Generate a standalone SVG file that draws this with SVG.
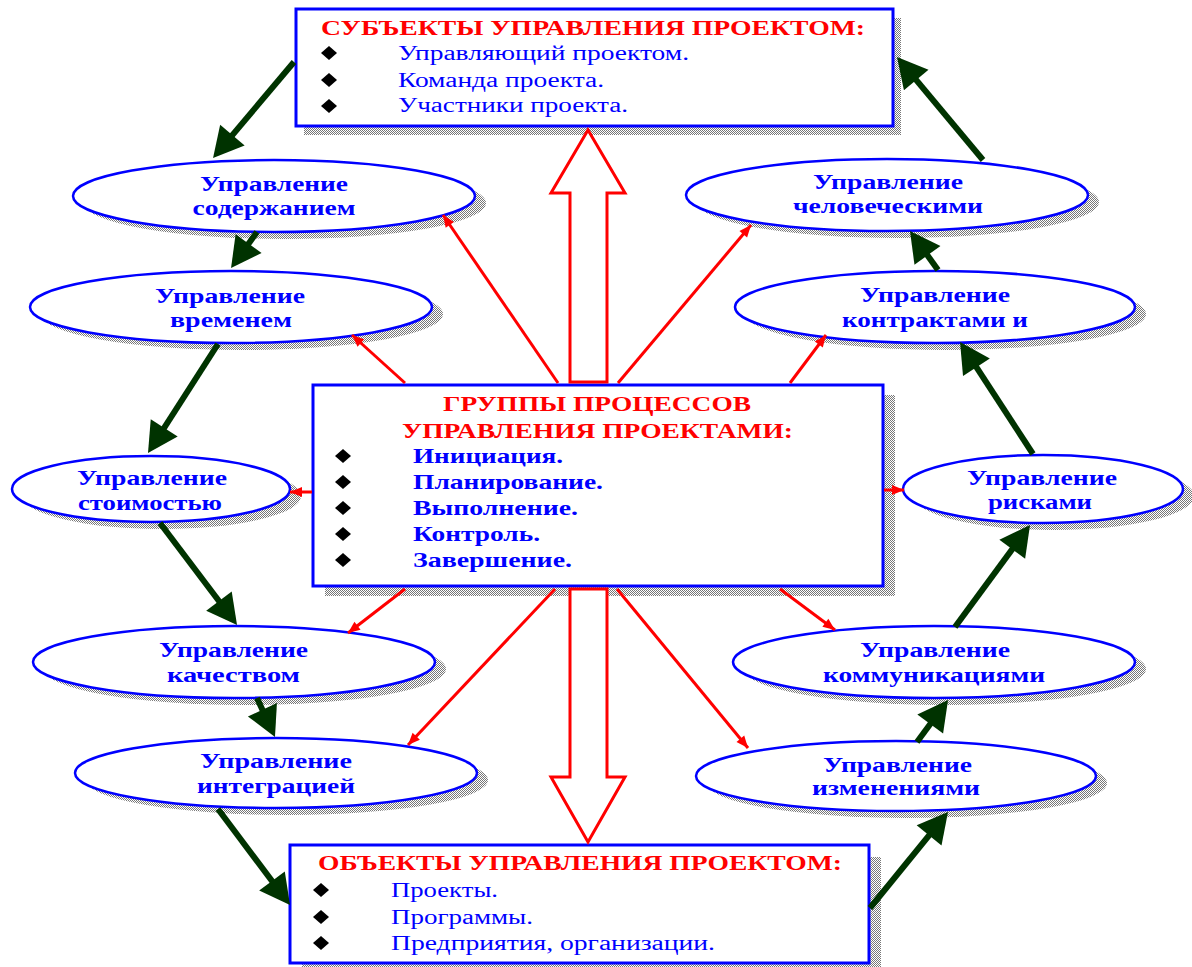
<svg xmlns="http://www.w3.org/2000/svg" width="1192" height="967" viewBox="0 0 1192 967">
<style>
.box{fill:#fff;stroke:#0000ff;stroke-width:3}
.ell{fill:#fff;stroke:#0000ff;stroke-width:2.5}
.sh{fill:url(#dither);stroke:none}
.tt{font-family:"Liberation Serif",serif;font-weight:bold;fill:#ff0000;font-size:21px}
.ti{font-family:"Liberation Serif",serif;fill:#0000ff;font-size:20px}
.tb{font-family:"Liberation Serif",serif;font-weight:bold;fill:#0000ff;font-size:21px}
.te{font-family:"Liberation Serif",serif;font-weight:bold;fill:#0000ff;font-size:22px;text-anchor:middle}
.mid{text-anchor:middle}
.g{stroke:#003300;stroke-width:6;fill:none;marker-end:url(#gh)}
.r{stroke:#ff0000;stroke-width:3;fill:none;marker-end:url(#rh)}
.big{fill:#fff;stroke:#ff0000;stroke-width:3;stroke-linejoin:miter}
</style>
<defs>
<pattern id="dither" width="2" height="2" patternUnits="userSpaceOnUse">
<rect width="2" height="2" fill="#ffffff"/>
<rect width="1" height="1" fill="#777777"/>
<rect x="1" y="1" width="1" height="1" fill="#777777"/>
</pattern>
<marker id="gh" markerUnits="userSpaceOnUse" markerWidth="32" markerHeight="32" refX="20" refY="16" orient="auto" overflow="visible">
<path d="M0,0 L30,16 L0,32 z" fill="#003300"/>
</marker>
<marker id="rh" markerUnits="userSpaceOnUse" markerWidth="14" markerHeight="12" refX="12" refY="5" orient="auto" overflow="visible">
<path d="M0,0 L12,5 L0,10 z" fill="#ff0000"/>
</marker>
<path id="dia" d="M-8,0 L0,-7 L8,0 L0,7 z" fill="#000"/>
</defs>

<g id="subjects">
<rect class="sh" x="304" y="18" width="597" height="117"/>
<rect class="box" x="296" y="9" width="597" height="117"/>
<text class="tt mid" x="593" y="35" textLength="544" lengthAdjust="spacingAndGlyphs">СУБЪЕКТЫ УПРАВЛЕНИЯ ПРОЕКТОМ:</text>
<use href="#dia" x="329" y="53"/>
<use href="#dia" x="329" y="80"/>
<use href="#dia" x="329" y="106"/>
<text class="ti" x="398" y="60" textLength="291" lengthAdjust="spacingAndGlyphs">Управляющий проектом.</text>
<text class="ti" x="398" y="87" textLength="206" lengthAdjust="spacingAndGlyphs">Команда проекта.</text>
<text class="ti" x="398" y="112" textLength="230" lengthAdjust="spacingAndGlyphs">Участники проекта.</text>
</g>

<g id="groups">
<rect class="sh" x="325" y="395" width="570" height="201"/>
<rect class="box" x="313" y="385" width="570" height="201"/>
<text class="tt mid" x="597" y="411" textLength="308" lengthAdjust="spacingAndGlyphs">ГРУППЫ ПРОЦЕССОВ</text>
<text class="tt mid" x="597.5" y="438" textLength="391" lengthAdjust="spacingAndGlyphs">УПРАВЛЕНИЯ ПРОЕКТАМИ:</text>
<use href="#dia" x="343" y="456"/>
<use href="#dia" x="343" y="482"/>
<use href="#dia" x="343" y="508"/>
<use href="#dia" x="343" y="534"/>
<use href="#dia" x="343" y="560"/>
<text class="tb" x="413" y="463" textLength="150" lengthAdjust="spacingAndGlyphs">Инициация.</text>
<text class="tb" x="413" y="489" textLength="190" lengthAdjust="spacingAndGlyphs">Планирование.</text>
<text class="tb" x="413" y="515" textLength="165" lengthAdjust="spacingAndGlyphs">Выполнение.</text>
<text class="tb" x="413" y="541" textLength="127" lengthAdjust="spacingAndGlyphs">Контроль.</text>
<text class="tb" x="413" y="567" textLength="159" lengthAdjust="spacingAndGlyphs">Завершение.</text>
</g>

<g id="objects">
<rect class="sh" x="302" y="857" width="579" height="118"/>
<rect class="box" x="290" y="845" width="579" height="118"/>
<text class="tt mid" x="580" y="870" textLength="524" lengthAdjust="spacingAndGlyphs">ОБЪЕКТЫ УПРАВЛЕНИЯ ПРОЕКТОМ:</text>
<use href="#dia" x="321" y="890"/>
<use href="#dia" x="321" y="917"/>
<use href="#dia" x="321" y="943"/>
<text class="ti" x="391" y="897" textLength="107" lengthAdjust="spacingAndGlyphs">Проекты.</text>
<text class="ti" x="391" y="924" textLength="142" lengthAdjust="spacingAndGlyphs">Программы.</text>
<text class="ti" x="391" y="950" textLength="324" lengthAdjust="spacingAndGlyphs">Предприятия, организации.</text>
</g>

<g id="scope">
<ellipse class="sh" cx="285" cy="203" rx="201" ry="36"/>
<ellipse class="ell" cx="274" cy="196" rx="201" ry="36"/>
<text class="te" x="274" y="191" textLength="148" lengthAdjust="spacingAndGlyphs">Управление</text>
<text class="te" x="274" y="215" textLength="163" lengthAdjust="spacingAndGlyphs">содержанием</text>
</g>
<g id="time">
<ellipse class="sh" cx="242" cy="314" rx="201" ry="36"/>
<ellipse class="ell" cx="231" cy="307" rx="201" ry="36"/>
<text class="te" x="230" y="303" textLength="150" lengthAdjust="spacingAndGlyphs">Управление</text>
<text class="te" x="231" y="327" textLength="122" lengthAdjust="spacingAndGlyphs">временем</text>
</g>
<g id="cost">
<ellipse class="sh" cx="162" cy="496" rx="139" ry="33"/>
<ellipse class="ell" cx="151" cy="489" rx="139" ry="33"/>
<text class="te" x="152" y="485" textLength="150" lengthAdjust="spacingAndGlyphs">Управление</text>
<text class="te" x="150" y="510" textLength="144" lengthAdjust="spacingAndGlyphs">стоимостью</text>
</g>
<g id="quality">
<ellipse class="sh" cx="245" cy="669" rx="201" ry="36"/>
<ellipse class="ell" cx="234" cy="662" rx="201" ry="36"/>
<text class="te" x="233.5" y="657" textLength="149" lengthAdjust="spacingAndGlyphs">Управление</text>
<text class="te" x="233.5" y="682" textLength="133" lengthAdjust="spacingAndGlyphs">качеством</text>
</g>
<g id="integration">
<ellipse class="sh" cx="287" cy="780" rx="201" ry="35"/>
<ellipse class="ell" cx="276" cy="773" rx="201" ry="35"/>
<text class="te" x="276" y="768" textLength="152" lengthAdjust="spacingAndGlyphs">Управление</text>
<text class="te" x="276" y="793" textLength="158" lengthAdjust="spacingAndGlyphs">интеграцией</text>
</g>
<g id="hr">
<ellipse class="sh" cx="898" cy="202" rx="201" ry="36"/>
<ellipse class="ell" cx="887" cy="195" rx="201" ry="36"/>
<text class="te" x="888" y="189" textLength="150" lengthAdjust="spacingAndGlyphs">Управление</text>
<text class="te" x="888" y="213" textLength="190" lengthAdjust="spacingAndGlyphs">человеческими</text>
</g>
<g id="contracts">
<ellipse class="sh" cx="946" cy="314" rx="200" ry="36"/>
<ellipse class="ell" cx="935" cy="307" rx="200" ry="36"/>
<text class="te" x="935" y="302" textLength="150" lengthAdjust="spacingAndGlyphs">Управление</text>
<text class="te" x="935" y="327" textLength="186" lengthAdjust="spacingAndGlyphs">контрактами и</text>
</g>
<g id="risks">
<ellipse class="sh" cx="1054" cy="496" rx="140" ry="34"/>
<ellipse class="ell" cx="1043" cy="489" rx="140" ry="34"/>
<text class="te" x="1042" y="485" textLength="150" lengthAdjust="spacingAndGlyphs">Управление</text>
<text class="te" x="1040" y="509" textLength="104" lengthAdjust="spacingAndGlyphs">рисками</text>
</g>
<g id="communications">
<ellipse class="sh" cx="945" cy="669" rx="201" ry="36"/>
<ellipse class="ell" cx="934" cy="662" rx="201" ry="36"/>
<text class="te" x="935" y="657" textLength="150" lengthAdjust="spacingAndGlyphs">Управление</text>
<text class="te" x="934" y="682" textLength="222" lengthAdjust="spacingAndGlyphs">коммуникациями</text>
</g>
<g id="changes">
<ellipse class="sh" cx="907" cy="783" rx="200" ry="35"/>
<ellipse class="ell" cx="896" cy="776" rx="200" ry="35"/>
<text class="te" x="897.5" y="772" textLength="149" lengthAdjust="spacingAndGlyphs">Управление</text>
<text class="te" x="896" y="795" textLength="168" lengthAdjust="spacingAndGlyphs">изменениями</text>
</g>

<g id="connectors">
<polygon class="big" points="588,130 625,193 607,193 607,382 570,382 570,193 551,193"/>
<polygon class="big" points="570,589 607,589 607,777 625,777 588,842 551,777 570,777"/>
<path class="g" d="M294,62 L219.5,150.4"/>
<path class="g" d="M257,232 L236.9,259.9"/>
<path class="g" d="M218,344 L153.4,444.6"/>
<path class="g" d="M160,523 L231,617"/>
<path class="g" d="M257,698 L270.8,727.9"/>
<path class="g" d="M218,809 L284,897"/>
<path class="g" d="M870,908 L941.7,819.8"/>
<path class="g" d="M917,742 L942.1,708"/>
<path class="g" d="M955,627 L1024.1,533.1"/>
<path class="g" d="M1033,454 L965.5,350.4"/>
<path class="g" d="M938,270 L915.8,239.1"/>
<path class="g" d="M983,160 L903.4,64.7"/>
<path class="r" d="M405,383 L352,335"/>
<path class="r" d="M558,383 L443,215"/>
<path class="r" d="M618,383 L751,225"/>
<path class="r" d="M790,383 L826,335"/>
<path class="r" d="M312,492 L290,492"/>
<path class="r" d="M884,490 L904,490"/>
<path class="r" d="M405,589 L348,633"/>
<path class="r" d="M555,589 L408,745"/>
<path class="r" d="M617,589 L748,748"/>
<path class="r" d="M780,589 L835,630"/>
</g>
</svg>
